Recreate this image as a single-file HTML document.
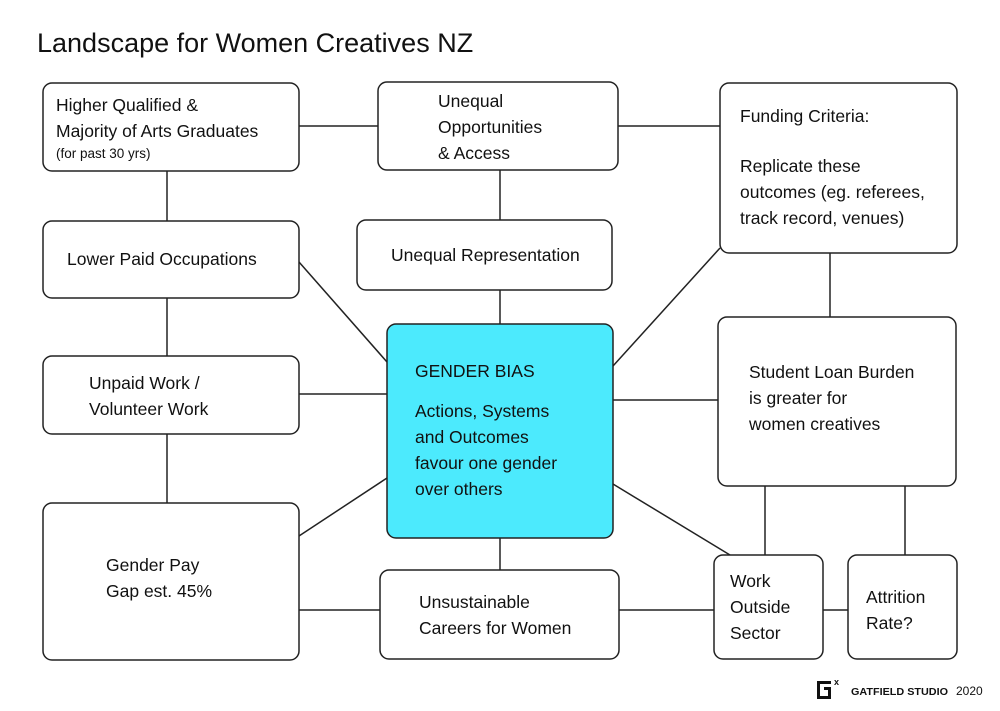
<!DOCTYPE html>
<html><head><style>
body{margin:0;background:#fff;}
svg text{font-family:"Liberation Sans",sans-serif;fill:#111;}
</style></head><body>
<svg width="1000" height="706" viewBox="0 0 1000 706" xmlns="http://www.w3.org/2000/svg">
<rect width="1000" height="706" fill="#fff"/>
<text x="37" y="52" font-size="27">Landscape for Women Creatives NZ</text>
<g stroke="#222" stroke-width="1.5" fill="none">
<line x1="299" y1="126" x2="378" y2="126"/>
<line x1="618" y1="126" x2="720" y2="126"/>
<line x1="167" y1="171" x2="167" y2="221"/>
<line x1="500" y1="170" x2="500" y2="220"/>
<line x1="167" y1="298" x2="167" y2="356"/>
<line x1="167" y1="434" x2="167" y2="503"/>
<line x1="299" y1="262" x2="387" y2="362"/>
<line x1="299" y1="394" x2="387" y2="394"/>
<line x1="299" y1="536" x2="387" y2="478"/>
<line x1="500" y1="290" x2="500" y2="324"/>
<line x1="500" y1="538" x2="500" y2="570"/>
<line x1="613" y1="366" x2="720" y2="248"/>
<line x1="613" y1="400" x2="718" y2="400"/>
<line x1="613" y1="484" x2="730" y2="555"/>
<line x1="299" y1="610" x2="380" y2="610"/>
<line x1="619" y1="610" x2="714" y2="610"/>
<line x1="830" y1="253" x2="830" y2="317"/>
<line x1="765" y1="486" x2="765" y2="555"/>
<line x1="905" y1="486" x2="905" y2="555"/>
<line x1="823" y1="610" x2="848" y2="610"/>
</g>
<g stroke="#222" stroke-width="1.5" fill="#fff">
<rect x="43" y="83" width="256" height="88" rx="9"/>
<rect x="378" y="82" width="240" height="88" rx="9"/>
<rect x="720" y="83" width="237" height="170" rx="9"/>
<rect x="43" y="221" width="256" height="77" rx="9"/>
<rect x="357" y="220" width="255" height="70" rx="9"/>
<rect x="387" y="324" width="226" height="214" rx="9" fill="#4ceafd"/>
<rect x="43" y="356" width="256" height="78" rx="9"/>
<rect x="718" y="317" width="238" height="169" rx="9"/>
<rect x="43" y="503" width="256" height="157" rx="9"/>
<rect x="380" y="570" width="239" height="89" rx="9"/>
<rect x="714" y="555" width="109" height="104" rx="9"/>
<rect x="848" y="555" width="109" height="104" rx="9"/>
</g>
<g font-size="17.5">
<text x="56" y="111">Higher Qualified &amp;</text>
<text x="56" y="137">Majority of Arts Graduates</text>
<text x="56" y="158" font-size="13.5">(for past 30 yrs)</text>
<text x="438" y="107">Unequal</text>
<text x="438" y="133">Opportunities</text>
<text x="438" y="159">&amp; Access</text>
<text x="740" y="122">Funding Criteria:</text>
<text x="740" y="172">Replicate these</text>
<text x="740" y="198">outcomes (eg. referees,</text>
<text x="740" y="224">track record, venues)</text>
<text x="67" y="265">Lower Paid Occupations</text>
<text x="391" y="261">Unequal Representation</text>
<text x="415" y="377">GENDER BIAS</text>
<text x="415" y="417">Actions, Systems</text>
<text x="415" y="443">and Outcomes</text>
<text x="415" y="469">favour one gender</text>
<text x="415" y="495">over others</text>
<text x="89" y="389">Unpaid Work /</text>
<text x="89" y="415">Volunteer Work</text>
<text x="749" y="378">Student Loan Burden</text>
<text x="749" y="404">is greater for</text>
<text x="749" y="430">women creatives</text>
<text x="106" y="571">Gender Pay</text>
<text x="106" y="597">Gap est. 45%</text>
<text x="419" y="608">Unsustainable</text>
<text x="419" y="634">Careers for Women</text>
<text x="730" y="587">Work</text>
<text x="730" y="613">Outside</text>
<text x="730" y="639">Sector</text>
<text x="866" y="603">Attrition</text>
<text x="866" y="629">Rate?</text>
</g>
<path d="M817 681 h14 v3 h-11 v12 h8 v-6 h-4 v-3 h7 v12 h-14 z" fill="#111"/>
<text x="834" y="685" font-size="9" font-weight="bold">x</text>
<text x="851" y="695" font-size="10" font-weight="bold" textLength="97" lengthAdjust="spacingAndGlyphs">GATFIELD STUDIO</text>
<text x="956" y="695" font-size="12">2020</text>
</svg>
</body></html>
